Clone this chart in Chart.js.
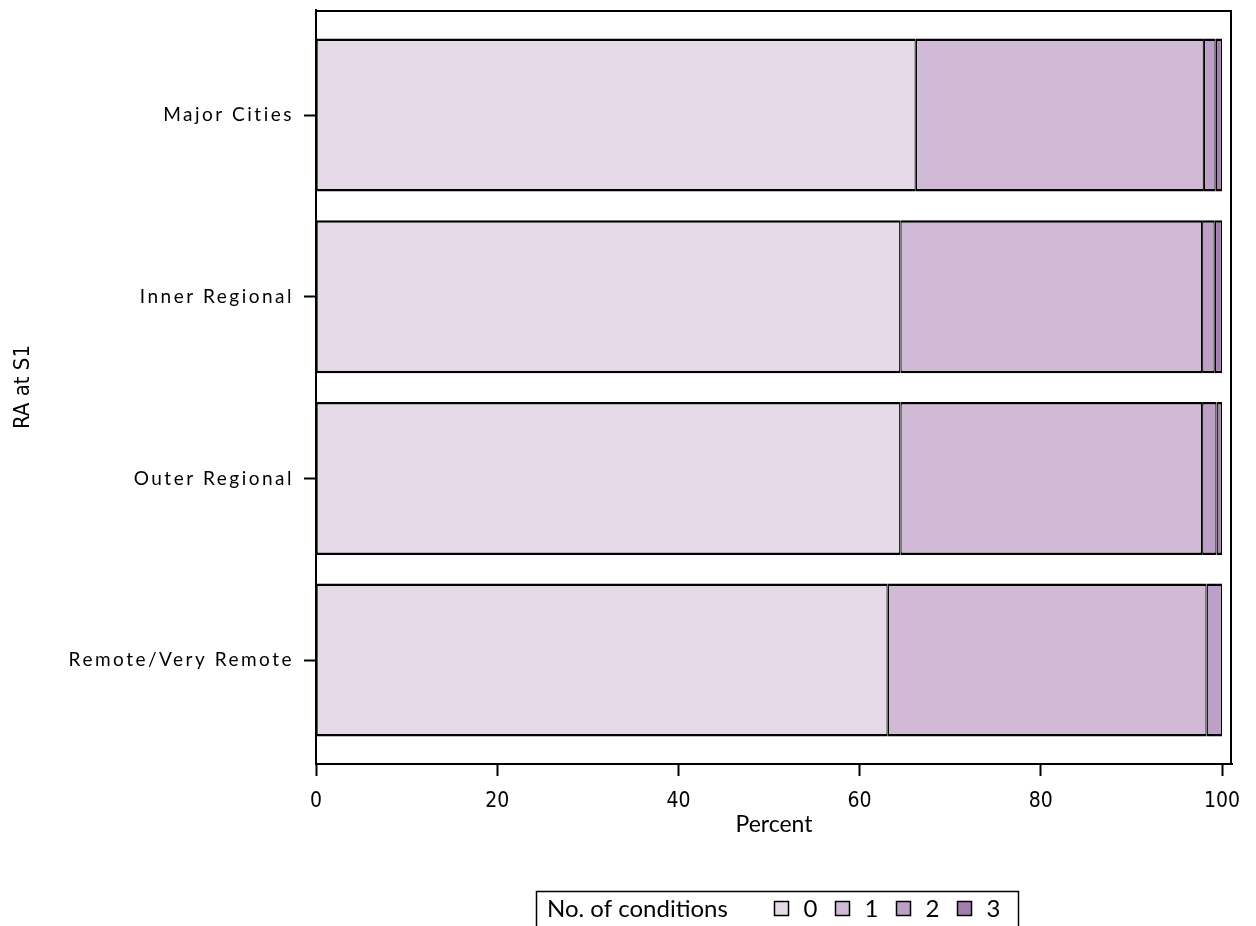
<!DOCTYPE html>
<html>
<head>
<meta charset="utf-8">
<script src="https://cdn.jsdelivr.net/npm/chart.js@4.4.1/dist/chart.umd.min.js"></script>
<style>
  html, body { margin: 0; padding: 0; background: #fff; }
  #wrap { width: 1256px; height: 926px; }
</style>
</head>
<body>
<div id="wrap"><canvas id="chart"></canvas></div>
<script>
// values (percent of each region)
const regions = ['Major Cities', 'Inner Regional', 'Outer Regional', 'Remote/Very Remote'];
const conditions = ['0', '1', '2', '3'];
const pct0 = [66.2, 64.5, 64.5, 63.1];
const pct1 = [31.8, 33.3, 33.3, 35.2];
const pct2 = [1.3, 1.4, 1.6, 1.7];
const pct3 = [0.7, 0.8, 0.6, 0.0];
const xTicks = [0, 20, 40, 60, 80, 100];
const colors = ['#e6dae9', '#d0bad6', '#bca0c8', '#a57eb0'];

const series = [pct0, pct1, pct2, pct3];

const narrow = '"Liberation Sans Narrow", "DejaVu Sans Condensed", sans-serif';

// frame on the top and right of the plot area
const frame = {
  id: 'frame',
  afterDatasetsDraw(chart) {
    const { ctx, chartArea: a } = chart;
    ctx.save();
    ctx.strokeStyle = '#000';
    ctx.lineWidth = 2;
    ctx.beginPath();
    ctx.moveTo(a.left, a.top + 1);
    ctx.lineTo(a.right - 1, a.top + 1);
    ctx.lineTo(a.right - 1, a.bottom);
    ctx.stroke();
    ctx.restore();
  }
};

// legend with its title on the same line, in a box
const legendBox = {
  id: 'legendBox',
  afterDraw(chart) {
    const ctx = chart.ctx;
    ctx.save();
    ctx.strokeStyle = '#000';
    ctx.lineWidth = 1.5;
    ctx.strokeRect(536.5, 891.5, 482, 50);
    ctx.font = '24px Lato, sans-serif';
    ctx.fillStyle = '#000';
    ctx.textBaseline = 'middle';
    ctx.textAlign = 'left';
    ctx.fillText('No. of conditions', 547, 909);
    ctx.lineWidth = 1.5;
    chart.data.datasets.forEach((ds, i) => {
      const x = 774.5 + i * 61;
      ctx.fillStyle = ds.backgroundColor;
      ctx.fillRect(x, 901.5, 14, 14);
      ctx.strokeRect(x, 901.5, 14, 14);
      ctx.fillStyle = '#000';
      ctx.fillText(ds.label, x + 29, 909);
    });
    ctx.restore();
  }
};

new Chart(document.getElementById('chart'), {
  type: 'bar',
  data: {
    datasets: series.map((vals, i) => ({
      label: conditions[i],
      data: vals.map((v, j) => ({ x: v, y: j })),
      backgroundColor: colors[i],
      borderColor: '#000',
      // thin sides so two touching segments share one line
      borderWidth: { top: 2.5, bottom: 2.5, left: 1.3, right: 1.3 },
      borderSkipped: false,
      inflateAmount: 0,
      barPercentage: 0.842,
      categoryPercentage: 1
    }))
  },
  options: {
    indexAxis: 'y',
    responsive: true,
    maintainAspectRatio: false,
    animation: false,
    layout: { autoPadding: false, padding: { left: 0, top: 10, right: 24, bottom: 82 } },
    plugins: {
      legend: { display: false },
      tooltip: { enabled: false }
    },
    scales: {
      x: {
        type: 'linear',
        stacked: true,
        min: 0,
        max: 101.1,
        afterBuildTicks: s => { s.ticks = xTicks.map(v => ({ value: v })); },
        afterFit: s => { s.height = 80; s.paddingLeft = 0; s.paddingRight = 0; },
        grid: { drawOnChartArea: false, drawTicks: true, tickLength: 12, tickColor: '#000', tickWidth: 2 },
        border: { display: true, color: '#000', width: 2 },
        ticks: { color: '#000', padding: 13, font: { family: narrow, size: 21 }, maxRotation: 0 },
        title: { display: true, text: 'Percent', color: '#000', font: { family: 'Lato, sans-serif', size: 23 }, padding: { top: 0, bottom: 6 } }
      },
      y: {
        type: 'linear',
        stacked: true,
        reverse: true,
        offset: false,
        min: -0.578,
        max: 3.572,
        afterBuildTicks: s => { s.ticks = regions.map((r, i) => ({ value: i })); },
        afterFit: s => {
          s.width = 316;
          s.paddingTop = 0;
          s.paddingBottom = 0;
          if (!s._spaced) {
            const draw = s.drawLabels.bind(s);
            s.drawLabels = function (area) {
              this.ctx.save();
              this.ctx.letterSpacing = '2.5px';
              draw(area);
              this.ctx.restore();
            };
            s._spaced = true;
          }
        },
        grid: { offset: false, drawOnChartArea: false, drawTicks: true, tickLength: 12, tickColor: '#000', tickWidth: 2 },
        border: { display: true, color: '#000', width: 2 },
        ticks: {
          color: '#000',
          padding: 10,
          font: { family: 'Lato, sans-serif', size: 19 },
          callback: v => regions[v]
        },
        title: { display: true, text: 'RA at S1', color: '#000', font: { family: narrow, size: 22 }, padding: { top: 10, bottom: 0 } }
      }
    }
  },
  plugins: [frame, legendBox]
});
</script>
</body>
</html>
